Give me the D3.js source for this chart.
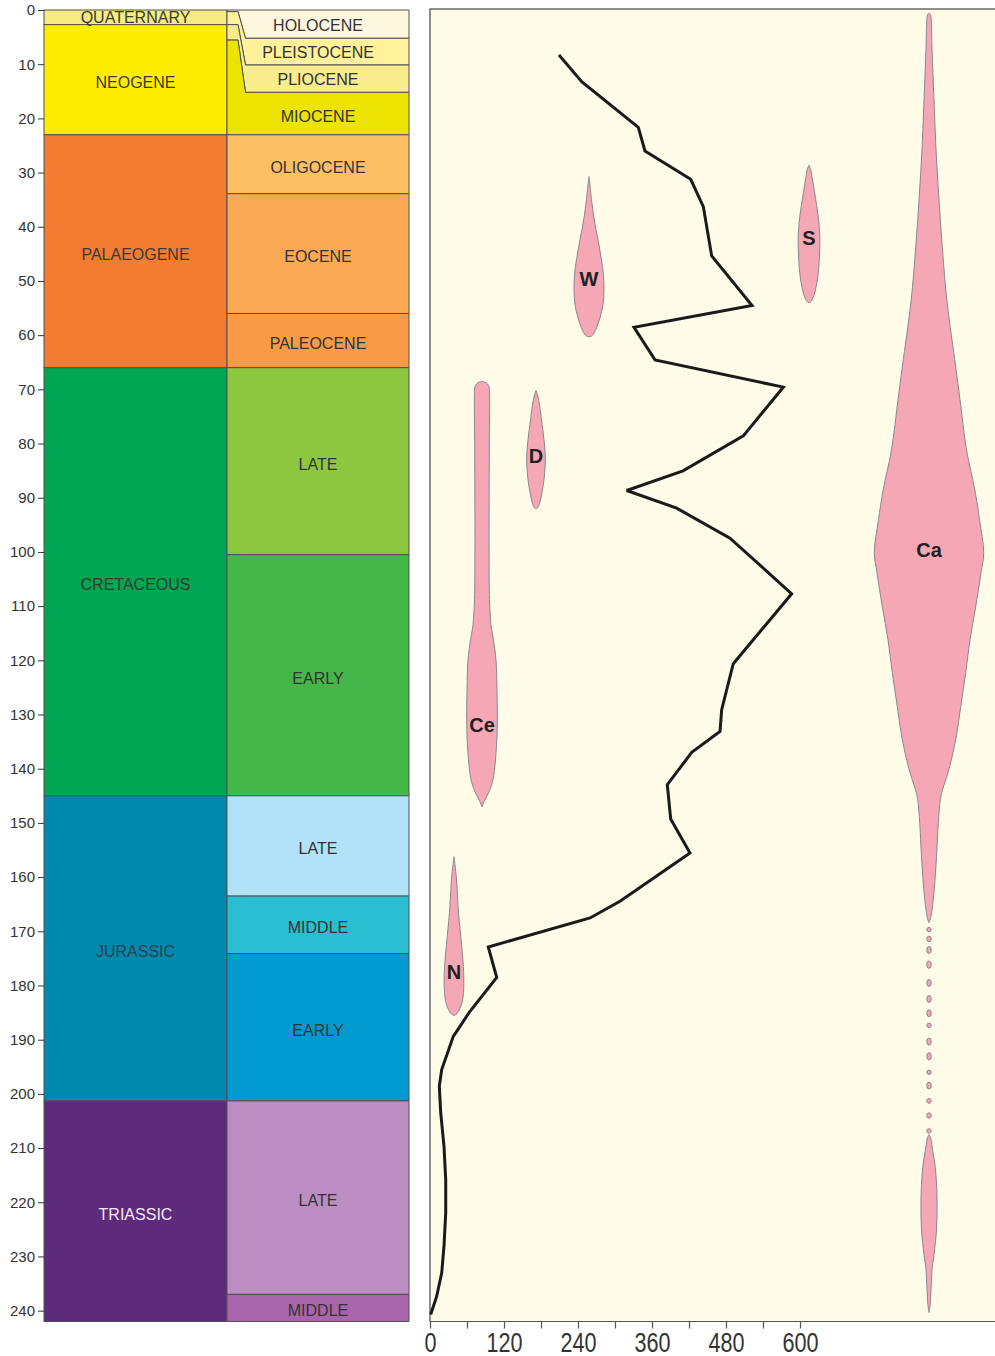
<!DOCTYPE html>
<html><head><meta charset="utf-8">
<script src="https://cdn.jsdelivr.net/npm/d3@7"></script>
<style>body{margin:0;background:#fff}svg{display:block}</style>
</head><body>
<svg id="chart" width="995" height="1356"></svg>
<script>
// ---------- DATA ----------
const ageTicks = d3.range(0, 241, 10);
const valueTicks = d3.range(0, 601, 60);
const valueLabels = [0, 120, 240, 360, 480, 600];

const periods = [
  {name: "QUATERNARY", start: 0,     end: 2.7,   color: "#F6EC82", text: "#3a3a3a"},
  {name: "NEOGENE",    start: 2.7,   end: 23.03, color: "#FFED00", text: "#3a3a3a"},
  {name: "PALAEOGENE", start: 23.03, end: 66,    color: "#F47B32", text: "#3a3a3a"},
  {name: "CRETACEOUS", start: 66,    end: 145,   color: "#00A651", text: "#2f3a33"},
  {name: "JURASSIC",   start: 145,   end: 201.3, color: "#0089AF", text: "#2c3f4a"},
  {name: "TRIASSIC",   start: 201.3, end: 242,   color: "#5E2A7B", text: "#f2eaf4"}
];

const epochs = [
  {name: "HOLOCENE",    start: 0,      end: 0.3,   showStart: 0,     showEnd: 5.22,  color: "#FEF8DF"},
  {name: "PLEISTOCENE", start: 0.3,    end: 2.7,   showStart: 5.22,  showEnd: 10.15, color: "#FFF29A"},
  {name: "PLIOCENE",    start: 2.7,    end: 5.55,  showStart: 10.15, showEnd: 15.19, color: "#F8EC8C"},
  {name: "MIOCENE",     start: 5.55,   end: 23.03, showStart: 15.19, showEnd: 23.03, color: "#ECE300"},
  {name: "OLIGOCENE",   start: 23.03,  end: 33.9,  color: "#FDBF63"},
  {name: "EOCENE",      start: 33.9,   end: 56,    color: "#FBA954"},
  {name: "PALEOCENE",   start: 56,     end: 66,    color: "#F99A47"},
  {name: "LATE",        start: 66,     end: 100.5, color: "#8DC63F"},
  {name: "EARLY",       start: 100.5,  end: 145,   color: "#45B649"},
  {name: "LATE",        start: 145,    end: 163.5, color: "#B1E2F8"},
  {name: "MIDDLE",      start: 163.5,  end: 174.1, color: "#2BBDD1"},
  {name: "EARLY",       start: 174.1,  end: 201.3, color: "#009AD0"},
  {name: "LATE",        start: 201.3,  end: 237,   color: "#BC8DC2"},
  {name: "MIDDLE",      start: 237,    end: 242,   color: "#A865AC"}
];

// total diversity curve: [age Ma, value]
const diversity = [
  [8.30, 209.2], [13.23, 246.0], [21.64, 337.8], [26.01, 348.6], [31.23, 422.8],
  [36.28, 443.2], [45.37, 456.8], [54.54, 522.2], [58.53, 330.8], [64.56, 364.9],
  [69.59, 572.9], [78.58, 508.1], [85.03, 410.3], [88.66, 319.0], [91.91, 400.0],
  [97.45, 486.5], [107.72, 586.5], [120.63, 491.8], [129.11, 473.0], [133.12, 470.3],
  [136.99, 424.4], [142.95, 384.8], [149.28, 390.3], [155.55, 421.6], [164.47, 308.1],
  [167.54, 259.5], [172.89, 94.5], [178.49, 108.2], [184.76, 64.9], [189.38, 37.8],
  [195.52, 19.0], [198.60, 15.1], [203.50, 17.4], [209.67, 22.7], [215.81, 25.5],
  [221.95, 25.5], [228.11, 22.7], [233.02, 19.0], [237.33, 10.9], [240.71, 1.1]
];

// spindle groups: centre value, label age, profile [age, half-width value]
const groupW = {label: "W", centre: 257.8, labelAge: 49.6, profile: [
  [30.75,0],[32.28,1.6],[35.05,4.1],[37.81,7.3],[40.58,11.4],[43.35,16.2],[46.11,20.3],
  [48.88,23.5],[51.65,24.3],[54.41,22.7],[56.81,17.8],[58.66,12.2],[59.76,7.3],[60.17,4.1],[60.32,0]]};
const groupS = {label: "S", centre: 614.6, labelAge: 42.1, profile: [
  [28.59,0],[29.51,2.9],[31.36,5.7],[34.12,9.7],[37.81,14.6],[41.50,17.5],[45.19,17.0],
  [48.88,14.6],[51.65,10.5],[53.12,6.5],[53.77,3.2],[54.04,0]]};
const groupD = {label: "D", centre: 171.9, labelAge: 82.3, profile: [
  [70.22,0],[71.01,2.4],[72.86,5.7],[75.62,8.9],[79.31,13.0],[82.45,15.1],[85.77,13.8],
  [88.54,10.5],[90.75,6.5],[91.67,3.6],[92.13,0]]};
const groupCe = {label: "Ce", centre: 84.3, labelAge: 131.9, profile: [
  [68.56,0],[68.71,5.7],[68.99,8.9],[69.54,11.4],[70.46,12.2],[81.16,11.8],[99.60,11.5],
  [108.83,12.2],[113.44,14.6],[116.20,18.6],[119.89,22.7],[125.43,24.3],[132.80,24.6],
  [138.34,21.9],[142.03,17.8],[144.24,11.4],[145.72,4.9],[147.01,0]]};
const groupN = {label: "N", centre: 38.9, labelAge: 177.6, profile: [
  [156.23,0],[157.70,1.6],[160.47,4.1],[166.56,7.3],[172.83,12.6],[177.63,15.7],[181.31,15.4],
  [183.16,13.0],[184.45,8.9],[185.19,4.9],[185.56,0]]};
const groupCa = {label: "Ca", centre: 809.2, labelAge: 99.6, profile: [
  [0.55,0],[0.74,1.9],[1.29,3.2],[7.38,4.9],[16.60,8.1],[25.82,11.4],[35.05,16.2],[44.27,21.9],
  [53.49,28.9],[65.85,43.3],[71.94,50.3],[81.16,60.8],[88.54,74.3],[94.07,81.9],[100.16,88.7],
  [103.85,84.3],[110.12,75.7],[116.20,66.5],[122.29,59.5],[128.56,51.4],[134.65,43.3],
  [140.74,30.8],[143.87,21.9],[145.72,18.3],[149.96,15.1],[156.23,12.2],[162.32,8.4],
  [166.01,4.9],[167.85,1.9],[168.40,0]]};
const groupCaLate = {label: "", centre: 809.2, labelAge: null, profile: [
  [207.51,0],[208.06,2.4],[210.27,5.7],[213.96,10.5],[219.50,13.0],[225.03,12.2],[229.64,8.1],
  [232.41,4.9],[236.10,3.2],[238.86,1.9],[240.34,0]]};
const groups = [groupW, groupS, groupD, groupCe, groupN, groupCa, groupCaLate];

// sparse Ca occurrences: [age, age span Ma]
const caDots = [
  [169.69,0.81],[171.41,1.03],[173.44,1.29],[176.15,1.37],[179.53,1.29],[182.48,1.29],
  [185.13,1.29],[187.35,0.81],[190.35,1.29],[193.06,1.37],[196.01,0.81],[198.47,1.29],
  [201.29,0.89],[204.00,1.00],[206.83,0.81]
];
const caDotHalfWidth = 3.6;

// ---------- LAYOUT ----------
const svg = d3.select("#chart");
const FONT = "'Liberation Sans', Arial, Helvetica, sans-serif";
const y = d3.scaleLinear().domain([0, 242]).range([10, 1321.5]);
const x = d3.scaleLinear().domain([0, 600]).range([430, 800]);
const col1 = [44, 227], col2 = [227, 409], bend = [238, 245.5];
const panelRight = 995;
const stroke = "#505050";
const labelShift = 3;

// time-scale column 1
const gp = svg.append("g");
gp.selectAll("rect").data(periods).join("rect")
  .attr("x", col1[0]).attr("width", col1[1] - col1[0])
  .attr("y", d => y(d.start)).attr("height", d => y(d.end) - y(d.start))
  .attr("fill", d => d.color).attr("stroke", stroke).attr("stroke-width", 1);
gp.selectAll("text").data(periods).join("text")
  .attr("x", (col1[0] + col1[1]) / 2)
  .attr("y", d => (y(d.start) + y(d.end)) / 2 + (d.name === "QUATERNARY" ? 0 : labelShift))
  .attr("text-anchor", "middle").attr("dominant-baseline", "central")
  .attr("font-family", FONT).attr("font-size", 16).attr("fill", d => d.text)
  .text(d => d.name);

// time-scale column 2 (with expanded recent epochs)
const ge = svg.append("g");
ge.selectAll("path").data(epochs).join("path")
  .attr("d", d => {
    const s0 = d.showStart ?? d.start, s1 = d.showEnd ?? d.end;
    const pts = [[col2[0], y(d.start)], [bend[0], y(d.start)], [bend[1], y(s0)], [col2[1], y(s0)],
                 [col2[1], y(s1)], [bend[1], y(s1)], [bend[0], y(d.end)], [col2[0], y(d.end)]];
    return "M" + pts.map(p => p.join(",")).join("L") + "Z";
  })
  .attr("fill", d => d.color).attr("stroke", stroke).attr("stroke-width", 1)
  .attr("stroke-linejoin", "round");
ge.selectAll("text").data(epochs).join("text")
  .attr("x", (col2[0] + col2[1]) / 2)
  .attr("y", d => (y(d.showStart ?? d.start) + y(d.showEnd ?? d.end)) / 2 + (d.showStart !== undefined && d.name !== "MIOCENE" ? 1 : labelShift))
  .attr("text-anchor", "middle").attr("dominant-baseline", "central")
  .attr("font-family", FONT).attr("font-size", 16).attr("fill", "#333")
  .text(d => d.name);

// age axis
const ya = svg.append("g").attr("transform", `translate(${col1[0]},0)`)
  .call(d3.axisLeft(y).tickValues(ageTicks).tickSize(6).tickPadding(3));
ya.select(".domain").remove();
ya.selectAll("line").attr("stroke", "#333");
ya.selectAll("text").attr("font-family", FONT).attr("font-size", 15).attr("fill", "#333");

// right panel
const yBottom = y(242);
svg.append("rect").attr("x", x(0)).attr("y", y(0) - 1)
  .attr("width", panelRight - x(0)).attr("height", yBottom - y(0) + 1)
  .attr("fill", "#FEFCE9");
svg.append("path")
  .attr("d", `M${panelRight},${y(0) - 1}H${x(0)}V${yBottom}`)
  .attr("fill", "none").attr("stroke", "#6a6a6a").attr("stroke-width", 1.5);

// spindles
const pink = "#F5A7B5", pinkStroke = "#8e8688";
const gs = svg.append("g");
groups.forEach(g => {
  const area = d3.area().curve(d3.curveCatmullRom.alpha(0.5))
    .y(d => y(d[0])).x0(d => x(g.centre - d[1])).x1(d => x(g.centre + d[1]));
  gs.append("path").attr("d", area(g.profile))
    .attr("fill", pink).attr("stroke", pinkStroke).attr("stroke-width", 1);
});
gs.selectAll("ellipse").data(caDots).join("ellipse")
  .attr("cx", x(groupCa.centre)).attr("cy", d => y(d[0]))
  .attr("rx", x(caDotHalfWidth) - x(0)).attr("ry", d => y(d[1] / 2) - y(0))
  .attr("fill", pink).attr("stroke", pinkStroke).attr("stroke-width", 1);
gs.selectAll("text").data(groups.filter(g => g.label)).join("text")
  .attr("x", d => x(d.centre)).attr("y", d => y(d.labelAge))
  .attr("text-anchor", "middle").attr("dominant-baseline", "central")
  .attr("font-family", FONT).attr("font-weight", "bold").attr("font-size", 20)
  .attr("fill", "#231F20").text(d => d.label);

// diversity curve
svg.append("path")
  .attr("d", d3.line().x(d => x(d[1])).y(d => y(d[0]))(diversity))
  .attr("fill", "none").attr("stroke", "#1a1a1a").attr("stroke-width", 3)
  .attr("stroke-linejoin", "miter").attr("stroke-miterlimit", 3);

// value axis
const xa = svg.append("g").attr("transform", `translate(0,${yBottom})`)
  .call(d3.axisBottom(x).tickValues(valueTicks).tickSize(7).tickPadding(4)
    .tickFormat(d => valueLabels.includes(d) ? d : ""));
xa.select(".domain").remove();
xa.append("line").attr("x1", x(0)).attr("x2", panelRight).attr("stroke", "#555").attr("stroke-width", 1.2);
xa.selectAll(".tick line").attr("stroke", "#555").attr("stroke-width", 1.2);
xa.selectAll(".tick text").attr("font-family", FONT).attr("font-size", 27)
  .attr("fill", "#333").attr("transform", "scale(0.8,1)");
</script>
</body></html>
